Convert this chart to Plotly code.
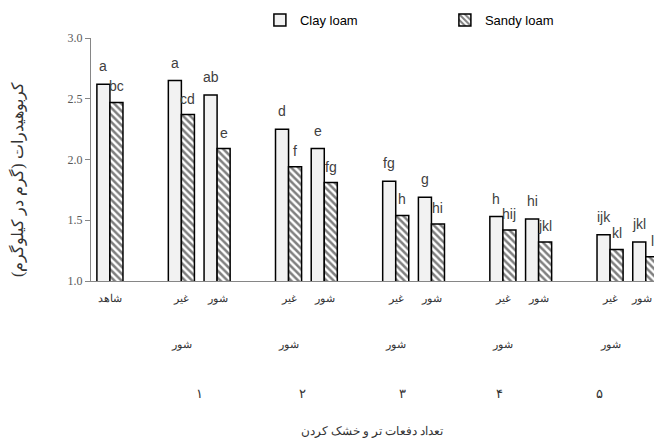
import plotly.graph_objects as go

# ---------------- data ----------------
treatments = ["شاهد", "غیر شور", "شور", "غیر شور", "شور", "غیر شور", "شور",
              "غیر شور", "شور", "غیر شور", "شور"]
treatment_group = [0, 1, 1, 2, 2, 3, 3, 4, 4, 5, 5]
group_labels = ["۱", "۲", "۳", "۴", "۵"]
clay_loam = [2.62, 2.65, 2.53, 2.25, 2.09, 1.82, 1.69, 1.53, 1.51, 1.38, 1.32]
sandy_loam = [2.47, 2.37, 2.09, 1.94, 1.81, 1.54, 1.47, 1.42, 1.32, 1.26, 1.20]
clay_letters = ["a", "a", "ab", "d", "e", "fg", "g", "h", "hi", "ijk", "jkl"]
sandy_letters = ["bc", "cd", "e", "f", "fg", "h", "hi", "hij", "jkl", "kl", "l"]
y_title = "کربوهیدرات (گرم در کیلوگرم)"
x_title = "تعداد دفعات تر و خشک کردن"

# ---------------- layout helpers ----------------
# category slots: control, gap, pair, pair, gap, pair, pair ...
pos = []
for i, g in enumerate(treatment_group):
    if g == 0:
        pos.append(0)
    else:
        j = [k for k, gg in enumerate(treatment_group) if gg == g].index(i)
        pos.append(3 * g - 1 + j)

group_label_pos = [2.5, 5.4, 8.2, 10.9, 13.7]
x_max = 15.23
label_max = 14.88  # keep edge labels inside the window

bargap = 0.27
bw = (1 - bargap) / 2

fig = go.Figure()
fig.add_trace(go.Bar(
    x=pos, y=clay_loam, name="Clay loam",
    marker=dict(color="#F2F2F2", line=dict(color="#000000", width=1.5)),
))
fig.add_trace(go.Bar(
    x=pos, y=sandy_loam, name="Sandy loam",
    marker=dict(color="#FFFFFF", line=dict(color="#000000", width=1.5),
                pattern=dict(shape="\\", fgcolor="#000000", bgcolor="#FFFFFF",
                             size=5, solidity=0.5)),
))

ann = []
letter_font = dict(family="Liberation Sans, Arial, sans-serif", size=14, color="#404040")
for p, v, t in zip(pos, clay_loam, clay_letters):
    ann.append(dict(x=p - bw / 2, y=v, xref="x", yref="y", text=t, showarrow=False,
                    yanchor="bottom", yshift=8, font=letter_font))
for p, v, t in zip(pos, sandy_loam, sandy_letters):
    ann.append(dict(x=p + bw / 2, y=v, xref="x", yref="y", text=t, showarrow=False,
                    yanchor="bottom", yshift=6, font=letter_font))

ar_font = dict(family="Liberation Serif, DejaVu Serif, serif", size=11, color="#333333")
line_shifts = [-17, -63]
for p, lab in zip(pos, treatments):
    for k, word in enumerate(lab.split(" ")):
        ann.append(dict(x=min(p, label_max), y=0, xref="x", yref="paper", text=word,
                        showarrow=False, yanchor="middle", yshift=line_shifts[k],
                        font=ar_font))
for p, lab in zip(group_label_pos, group_labels):
    ann.append(dict(x=p, y=0, xref="x", yref="paper", text=lab, showarrow=False,
                    yanchor="middle", yshift=-112, font=dict(ar_font, size=13)))

ann.append(dict(x=(372 - 110) / 35.73, y=0, xref="x", yref="paper", text=x_title,
                showarrow=False, yanchor="middle", yshift=-150,
                font=dict(ar_font, size=12)))
ann.append(dict(x=(17 - 91) / 563, y=(281 - 180) / 243, xref="paper", yref="paper",
                text=y_title, textangle=-90, showarrow=False, xanchor="center",
                yanchor="middle", font=dict(ar_font, size=16)))

fig.update_layout(
    width=654, height=439,
    margin=dict(l=91, r=0, t=38, b=158),
    paper_bgcolor="white", plot_bgcolor="white",
    barmode="group", bargap=bargap, bargroupgap=0,
    showlegend=True,
    legend=dict(orientation="h", x=0.30, y=1.074, xanchor="left", yanchor="middle",
                entrywidth=140, entrywidthmode="pixels",
                font=dict(family="Liberation Sans, Arial, sans-serif", size=13, color="#000000"),
                bgcolor="rgba(0,0,0,0)"),
    annotations=ann,
    xaxis=dict(range=[-0.53, x_max], showticklabels=False, ticks="", showgrid=False,
               zeroline=False, showline=True, linecolor="#868686", linewidth=1),
    yaxis=dict(range=[1.0, 3.0], dtick=0.5, tick0=1.0, tickformat=".1f", ticks="outside",
               ticklen=5, tickcolor="#868686", showgrid=False, zeroline=False,
               showline=True, linecolor="#868686", linewidth=1,
               tickfont=dict(family="Liberation Serif, serif", size=12, color="#595959")),
)

# remove the default page margin so the figure fills the window exactly
fig.write_html("out.html", config={"displayModeBar": False},
               post_script="document.body.style.margin='0';document.body.style.overflow='hidden';")
